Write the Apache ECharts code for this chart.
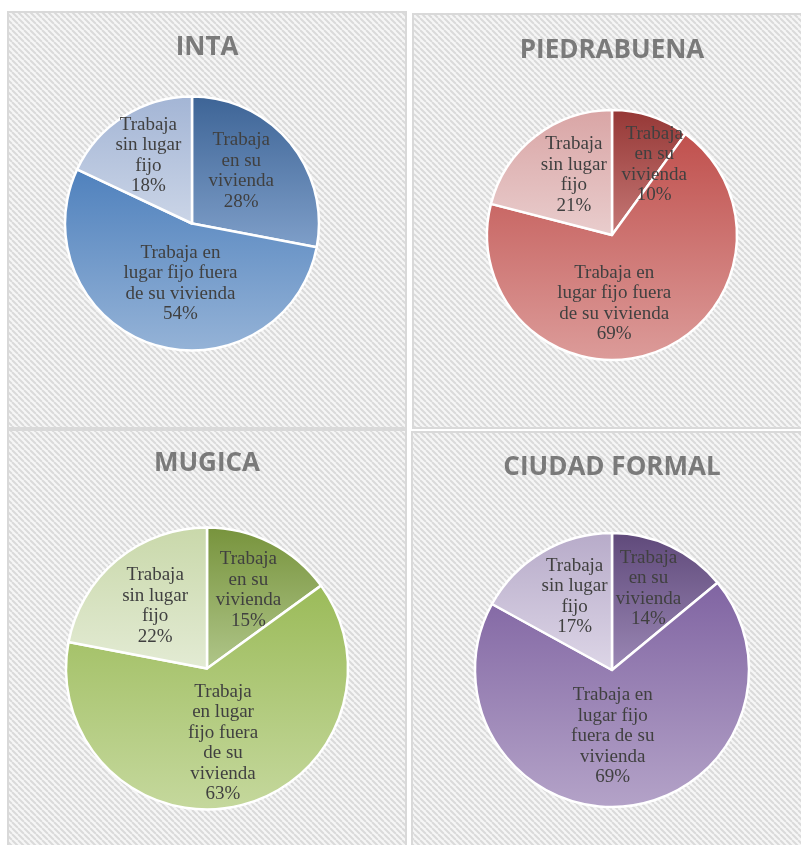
<!DOCTYPE html>
<html lang="es">
<head>
    <meta charset="UTF-8">
    <title>Lugar de trabajo por barrio</title>
    <script src="https://cdn.jsdelivr.net/npm/echarts@6/dist/echarts.min.js"></script>
    <style>
        body {
            margin: 0;
            background: #ffffff;
        }
        #chart {
            width: 801px;
            height: 845px;
        }
    </style>
</head>
<body>
    <div id="chart"></div>

    <script>
        // Datos
        const categories = ['Trabaja en su vivienda', 'Trabaja en lugar fijo fuera de su vivienda', 'Trabaja sin lugar fijo'];
        const regions = ['INTA', 'PIEDRABUENA', 'MUGICA', 'CIUDAD FORMAL'];

        const intaValues = [28, 54, 18];
        const piedrabuenaValues = [10, 69, 21];
        const mugicaValues = [15, 63, 22];
        const ciudadValues = [14, 69, 17];

        // Etiquetas tal como se cortan en cada torta
        const intaLabels = ['Trabaja\nen su\nvivienda', 'Trabaja en\nlugar fijo fuera\nde su vivienda', 'Trabaja\nsin lugar\nfijo'];
        const piedrabuenaLabels = ['Trabaja\nen su\nvivienda', 'Trabaja en\nlugar fijo fuera\nde su vivienda', 'Trabaja\nsin lugar\nfijo'];
        const mugicaLabels = ['Trabaja\nen su\nvivienda', 'Trabaja\nen lugar\nfijo fuera\nde su\nvivienda', 'Trabaja\nsin lugar\nfijo'];
        const ciudadLabels = ['Trabaja\nen su\nvivienda', 'Trabaja en\nlugar fijo\nfuera de su\nvivienda', 'Trabaja\nsin lugar\nfijo'];

        // Colores (arriba, abajo) de cada porción
        const palettes = [
            [['#3d6496', '#7f9fc9'], ['#4f81bd', '#95b3d7'], ['#a3b5d5', '#cbd5e7']],
            [['#953735', '#c67977'], ['#c0504d', '#dc9c9a'], ['#d9a5a5', '#e9cdcd']],
            [['#77933c', '#b0c68a'], ['#9bbb59', '#c5d89d'], ['#c9d8aa', '#e3ebd4']],
            [['#5f497a', '#9b88b5'], ['#8064a2', '#b4a3c8'], ['#b7abc9', '#ddd6e7']]
        ];

        // Disposición de cada panel
        const panels = [
            { box: [8, 12, 398, 416], center: [192, 223.5], radius: 127, title: [207, 33], nudge: [[-2, -10], [9, -3], [-8, -12]] },
            { box: [413, 14, 400, 414], center: [612, 235], radius: 125, title: [612, 36], nudge: [[22, -8], [-20, 7], [2, -8]] },
            { box: [8, 430, 398, 420], center: [207, 668.5], radius: 141, title: [207, 449], nudge: [[8, -13], [0, 3], [-5, -6]] },
            { box: [412, 432, 400, 420], center: [612, 670], radius: 137, title: [612, 453], nudge: [[6, -17], [-6, -5], [-1, -12]] }
        ];

        const valueSets = [intaValues, piedrabuenaValues, mugicaValues, ciudadValues];
        const labelSets = [intaLabels, piedrabuenaLabels, mugicaLabels, ciudadLabels];

        // Trama diagonal del fondo
        function makeHatch() {
            const p = 6;
            const c = document.createElement('canvas');
            c.width = p;
            c.height = p;
            const ctx = c.getContext('2d');
            ctx.fillStyle = '#f6f6f6';
            ctx.fillRect(0, 0, p, p);
            ctx.strokeStyle = '#dadada';
            ctx.lineWidth = 2;
            ctx.beginPath();
            for (let k = -1; k <= 1; k++) {
                ctx.moveTo(k * p, 0);
                ctx.lineTo(k * p + p, p);
            }
            ctx.stroke();
            return c;
        }

        const chart = echarts.init(document.getElementById('chart'), null, { renderer: 'canvas' });
        const hatch = makeHatch();

        const graphics = panels.map(p => ({
            type: 'rect',
            z: -10,
            shape: { x: p.box[0], y: p.box[1], width: p.box[2], height: p.box[3] },
            style: {
                fill: { image: hatch, repeat: 'repeat' },
                stroke: '#d9d9d9',
                lineWidth: 2
            }
        }));

        const titles = panels.map((p, i) => ({
            text: regions[i],
            left: p.title[0],
            top: p.title[1],
            textAlign: 'center',
            padding: 0,
            textStyle: {
                fontFamily: 'Open Sans',
                fontWeight: 'bold',
                fontSize: 26,
                lineHeight: 30,
                color: '#7a7a7a'
            }
        }));

        const series = panels.map((p, i) => ({
            type: 'pie',
            center: p.center,
            radius: p.radius,
            startAngle: 90,
            clockwise: true,
            silent: true,
            animation: false,
            itemStyle: {
                borderColor: '#ffffff',
                borderWidth: 2.5
            },
            label: {
                show: true,
                position: 'inside',
                fontFamily: 'Liberation Serif',
                fontSize: 19,
                lineHeight: 20.5,
                color: '#404040',
                align: 'center'
            },
            labelLine: { show: false },
            labelLayout: params => {
                const d = p.nudge[params.dataIndex];
                return { dx: d[0], dy: d[1] };
            },
            data: valueSets[i].map((v, j) => ({
                name: categories[j],
                value: v,
                label: { formatter: labelSets[i][j] + '\n{c}%' },
                itemStyle: {
                    color: {
                        type: 'linear', x: 0, y: 0, x2: 0, y2: 1,
                        colorStops: [
                            { offset: 0, color: palettes[i][j][0] },
                            { offset: 1, color: palettes[i][j][1] }
                        ]
                    }
                }
            }))
        }));

        chart.setOption({
            animation: false,
            graphic: graphics,
            title: titles,
            series: series
        });
    </script>
</body>
</html>
